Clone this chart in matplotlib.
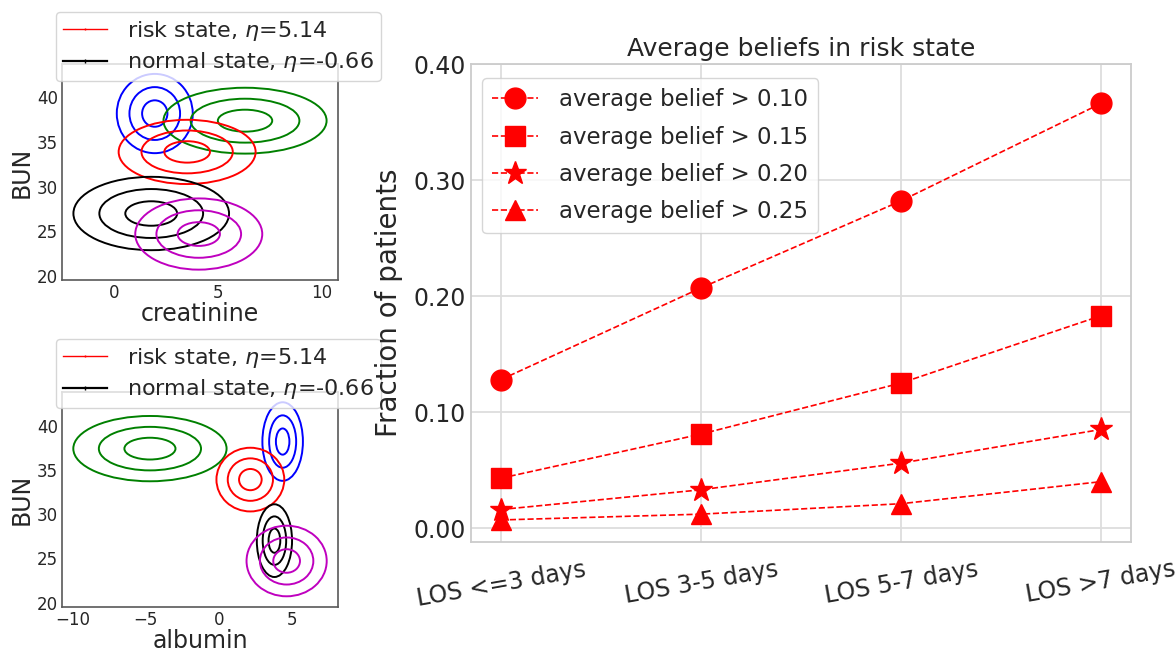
import matplotlib
matplotlib.use('Agg')
import matplotlib.pyplot as plt
from matplotlib.patches import Ellipse
from matplotlib.lines import Line2D

###############################################################################
# Gaussian components of the hidden states (mean / std per feature)
state_colors = ['b', 'g', 'r', 'k', 'm']
bun_mean = [38.2, 37.4, 33.9, 27.0, 24.7]
bun_std = [1.48, 1.23, 1.2, 1.37, 1.33]
creat_mean = [1.97, 6.32, 3.53, 1.8, 4.09]
creat_std = [0.61, 1.31, 1.1, 1.25, 1.02]
alb_mean = [4.33, -4.71, 2.13, 3.77, 4.6]
alb_std = [0.46, 1.74, 0.77, 0.4, 0.91]
n_sigma = [1, 2, 3]
state_labels = [r'risk state, $\eta$=5.14', r'normal state, $\eta$=-0.66']

###############################################################################
# Fraction of patients per length of stay
los_labels = ['LOS <=3 days', 'LOS 3-5 days', 'LOS 5-7 days', 'LOS >7 days']
thresholds = ['0.10', '0.15', '0.20', '0.25']
frac_010 = [0.128, 0.207, 0.282, 0.366]
frac_015 = [0.043, 0.081, 0.125, 0.183]
frac_020 = [0.016, 0.033, 0.056, 0.085]
frac_025 = [0.007, 0.012, 0.021, 0.040]
markers = ['o', 's', '*', '^']

plt.rcParams['font.family'] = ['DejaVu Sans']
plt.rcParams['text.color'] = '.15'
plt.rcParams['axes.labelcolor'] = '.15'
plt.rcParams['xtick.color'] = '.15'
plt.rcParams['ytick.color'] = '.15'

W, H = 1176, 653
fig = plt.figure(figsize=(W / 100, H / 100), dpi=100)


def fig_rect(x0, y0, x1, y1):
    # pixel box -> figure fraction
    return [x0 / W, 1 - y1 / H, (x1 - x0) / W, (y1 - y0) / H]


def state_panel(rect, xm, xs, xlabel, xlim, ylim, xticks, leg_top):
    ax = fig.add_axes(rect)
    for c, mx, sx, my, sy in zip(state_colors, xm, xs, bun_mean, bun_std):
        for k in n_sigma:
            ax.add_patch(Ellipse((mx, my), 2 * k * sx, 2 * k * sy,
                                 fill=False, ec=c, lw=1.4))
    ax.set_xlim(xlim)
    ax.set_ylim(ylim)
    ax.set_xticks(xticks)
    ax.set_yticks([20, 25, 30, 35, 40])
    ax.tick_params(length=0, labelsize=12, pad=3)
    for s in ax.spines.values():
        s.set_color('0.35')
        s.set_linewidth(1.2)
    ax.set_xlabel(xlabel, fontsize=17, labelpad=0)
    ax.set_ylabel('BUN', fontsize=17, labelpad=2)
    handles = [Line2D([], [], color='r', lw=1, marker='|', ms=2),
               Line2D([], [], color='k', lw=1.6, marker='|', ms=3)]
    ax.legend(handles, state_labels, fontsize=16, loc='upper left',
              bbox_to_anchor=(56 / W, 1 - leg_top / H),
              bbox_transform=fig.transFigure, borderaxespad=0,
              framealpha=0.8, edgecolor='0.8', labelspacing=0.35,
              borderpad=0.3, handletextpad=0.9)
    return ax


state_panel(fig_rect(62, 64, 338, 280), creat_mean, creat_std, 'creatinine',
            (-2.5, 10.8), (19.55, 43.75), [0, 5, 10], 12)
state_panel(fig_rect(62, 392, 338, 607), alb_mean, alb_std, 'albumin',
            (-10.7, 8.1), (19.5, 43.8), [-10, -5, 0, 5], 339)

###############################################################################
# Right panel
ax = fig.add_axes(fig_rect(471, 64, 1131, 542))
x = list(range(len(los_labels)))
for frac, m, t in zip([frac_010, frac_015, frac_020, frac_025], markers, thresholds):
    ax.plot(x, frac, 'r--', marker=m, ms=17 if m == '*' else 15, lw=1.2,
            label='average belief > ' + t)
ax.set_xlim(-0.15, 3.15)
ax.set_ylim(-0.012, 0.40)
ax.set_xticks(x)
ax.set_xticklabels(los_labels, rotation=10, ha='center')
ax.set_yticks([0.0, 0.1, 0.2, 0.3, 0.4])
ax.set_yticklabels(['%.2f' % v for v in [0.0, 0.1, 0.2, 0.3, 0.4]])
ax.tick_params(length=0, labelsize=17)
ax.tick_params(axis='x', pad=11)
ax.grid(True, color='#dddddd', lw=1.3)
ax.set_axisbelow(True)
for s in ax.spines.values():
    s.set_color('#cccccc')
    s.set_linewidth(1.3)
ax.set_title('Average beliefs in risk state', fontsize=18, pad=6)
ax.set_ylabel('Fraction of patients', fontsize=20, labelpad=8)
ax.legend(fontsize=16.5, loc='upper left',
          bbox_to_anchor=(482 / W, 1 - 78 / H), bbox_transform=fig.transFigure,
          borderaxespad=0, framealpha=0.8, edgecolor='0.8',
          labelspacing=0.62, borderpad=0.45, handletextpad=0.9)

fig.savefig('out.png', dpi=100)
